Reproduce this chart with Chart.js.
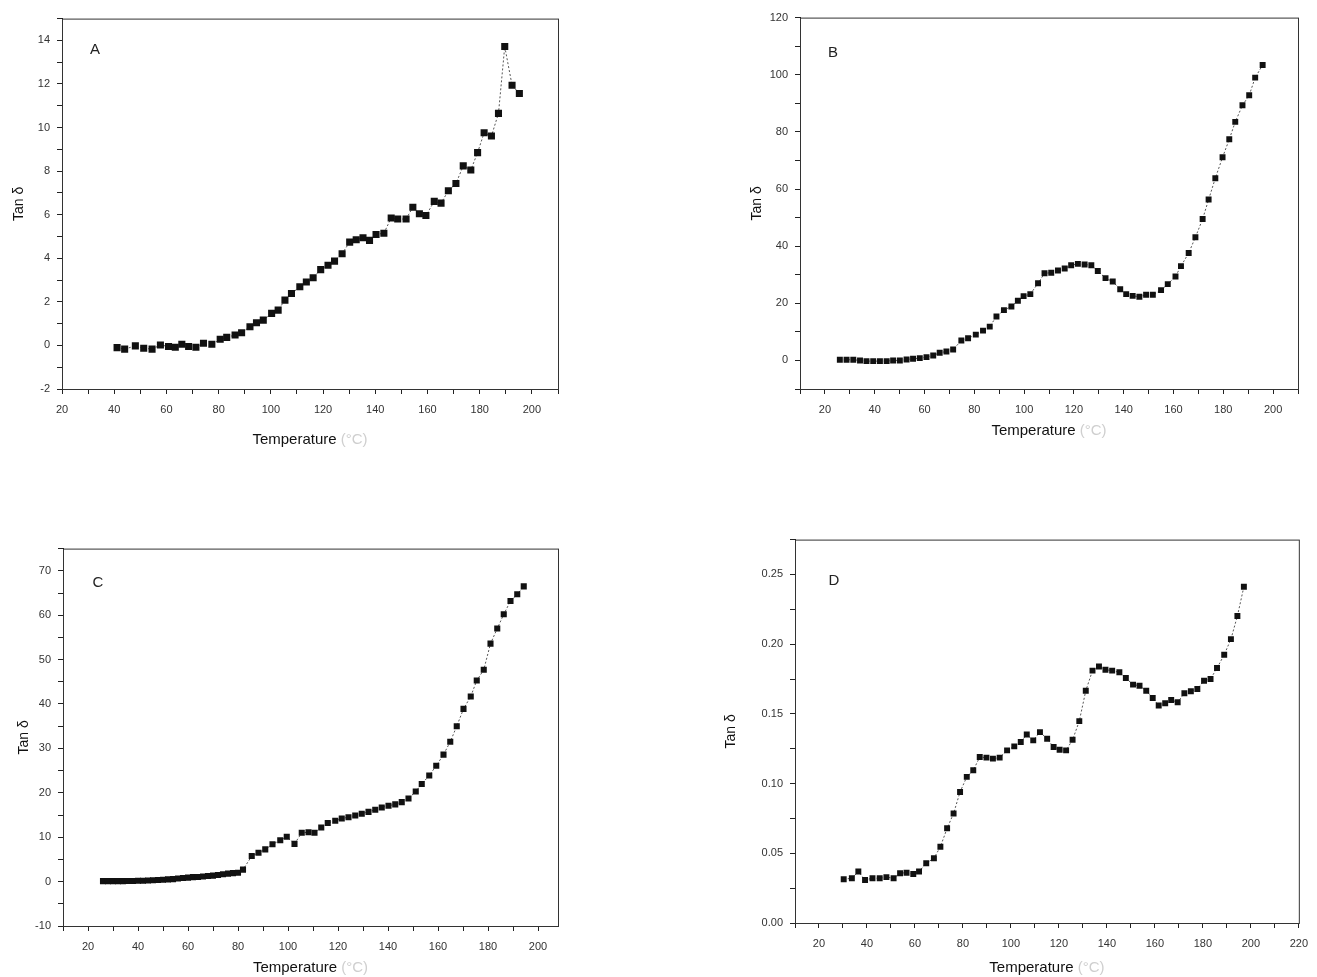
<!DOCTYPE html>
<html>
<head>
<meta charset="utf-8">
<script src="https://cdn.jsdelivr.net/npm/chart.js@4.4.1/dist/chart.umd.min.js"></script>
<style>
  html, body { margin: 0; padding: 0; background: #fff; overflow: hidden; }
  body { width: 1317px; height: 977px; position: relative; }
  canvas { position: absolute; }
</style>
</head>
<body>
<canvas id="chartA"></canvas>
<canvas id="chartB"></canvas>
<canvas id="chartC"></canvas>
<canvas id="chartD"></canvas>
<script>
// --- data (temperature in °C, tan δ) ---
const aTemp = [41.1, 44.0, 48.1, 51.3, 54.5, 57.7, 60.8, 63.4, 65.9, 68.5, 71.3, 74.2, 77.4, 80.6, 83.1, 86.3, 88.8, 92.0, 94.5, 97.1,
  100.3, 102.8, 105.4, 107.9, 111.1, 113.6, 116.2, 119.1, 121.9, 124.4, 127.3, 130.2, 132.7, 135.3, 137.8, 140.3, 143.3, 146.1, 148.6, 151.8,
  154.4, 156.9, 159.4, 162.6, 165.2, 168.0, 170.9, 173.7, 176.6, 179.2, 181.7, 184.5, 187.2, 189.6, 192.4, 195.2];
const aTan = [-0.10, -0.17, -0.02, -0.13, -0.17, 0.02, -0.05, -0.08, 0.05, -0.05, -0.08, 0.10, 0.05, 0.28, 0.37, 0.48, 0.58, 0.86, 1.04, 1.16,
  1.47, 1.62, 2.08, 2.38, 2.69, 2.91, 3.11, 3.48, 3.68, 3.87, 4.21, 4.74, 4.85, 4.94, 4.82, 5.09, 5.15, 5.85, 5.80, 5.80,
  6.34, 6.04, 5.96, 6.61, 6.53, 7.10, 7.43, 8.24, 8.05, 8.85, 9.76, 9.61, 10.65, 13.72, 11.94, 11.56];

const bTemp = [26.0, 28.7, 31.4, 34.1, 36.7, 39.4, 42.1, 44.8, 47.4, 50.1, 52.8, 55.4, 58.1, 60.8, 63.5, 66.1, 68.8, 71.5, 74.8, 77.5,
  80.6, 83.5, 86.2, 88.9, 91.9, 94.9, 97.5, 99.8, 102.5, 105.6, 108.2, 110.9, 113.6, 116.3, 118.9, 121.6, 124.3, 127.0, 129.6, 132.7,
  135.6, 138.6, 141.0, 143.6, 146.3, 149.0, 151.7, 155.0, 157.7, 160.8, 163.0, 166.1, 168.8, 171.7, 174.1, 176.8, 179.7, 182.4, 184.8, 187.7,
  190.4, 192.8, 195.8];
const bTan = [0.24, 0.24, 0.24, 0.0, -0.24, -0.24, -0.24, -0.24, 0.0, 0.0, 0.35, 0.58, 0.81, 1.16, 1.74, 2.67, 3.13, 3.83, 6.96, 7.77,
  9.04, 10.43, 11.83, 15.4, 17.6, 18.9, 20.9, 22.5, 23.2, 27.0, 30.5, 30.7, 31.5, 32.2, 33.3, 33.8, 33.6, 33.3, 31.3, 28.8,
  27.6, 24.9, 23.2, 22.6, 22.3, 23.0, 23.0, 24.6, 26.7, 29.4, 33.0, 37.6, 43.1, 49.5, 56.3, 63.8, 71.1, 77.4, 83.5, 89.3,
  92.8, 99.0, 103.4];

const cTemp = [26, 28, 30, 32, 34, 36, 38, 40, 42, 44, 46, 48, 50, 52, 54, 56, 58, 60, 62, 64, 66, 68, 70, 72, 74, 76, 78, 80, 82,
  85.5, 88.2, 90.9, 93.8, 96.9, 99.5, 102.6, 105.5, 108.2, 110.6, 113.3, 115.9, 118.9, 121.5, 124.2, 126.9, 129.5, 132.2, 134.9, 137.5,
  140.2, 142.9, 145.5, 148.2, 151.1, 153.5, 156.5, 159.3, 162.2, 164.9, 167.5, 170.2, 173.1, 175.5, 178.3, 181.0, 183.7, 186.3, 189.0,
  191.7, 194.3];
const cTan = [0.1, 0.1, 0.1, 0.1, 0.1, 0.15, 0.15, 0.2, 0.2, 0.25, 0.3, 0.35, 0.4, 0.5, 0.55, 0.7, 0.8, 0.9, 1.0, 1.05, 1.15, 1.25, 1.35, 1.5, 1.65, 1.8, 1.9, 2.0, 2.7,
  5.75, 6.5, 7.25, 8.4, 9.3, 10.1, 8.5, 11.0, 11.1, 11.0, 12.2, 13.2, 13.7, 14.2, 14.5, 14.9, 15.3, 15.7, 16.2, 16.7,
  17.1, 17.4, 17.9, 18.7, 20.3, 22.0, 23.9, 26.1, 28.6, 31.5, 35.0, 38.9, 41.7, 45.3, 47.7, 53.6, 57.0, 60.2, 63.2,
  64.7, 66.5];

const dTemp = [30.3, 33.7, 36.4, 39.2, 42.3, 45.3, 48.1, 51.1, 53.8, 56.5, 59.3, 61.7, 64.7, 67.9, 70.6, 73.4, 76.1, 78.8, 81.6, 84.3,
  87.0, 89.8, 92.5, 95.3, 98.4, 101.4, 104.1, 106.6, 109.3, 112.1, 115.1, 117.8, 120.3, 123.0, 125.7, 128.5, 131.2, 134.0, 136.7, 139.4,
  142.2, 145.2, 147.9, 150.9, 153.6, 156.4, 159.1, 161.6, 164.3, 166.8, 169.5, 172.3, 175.0, 177.7, 180.5, 183.2, 185.9, 188.9, 191.7, 194.4,
  197.1];
const dTan = [0.0314, 0.0321, 0.0369, 0.0309, 0.0321, 0.0321, 0.0329, 0.0321, 0.0357, 0.0361, 0.0352, 0.0369, 0.0429, 0.0464, 0.0547, 0.0679, 0.0786, 0.0940, 0.1048, 0.1095,
  0.1190, 0.1186, 0.1179, 0.1186, 0.1238, 0.1267, 0.1298, 0.1352, 0.1310, 0.1369, 0.1321, 0.1262, 0.1243, 0.1238, 0.1314, 0.1448, 0.1666, 0.1810, 0.1840, 0.1817,
  0.1810, 0.1798, 0.1757, 0.1710, 0.1702, 0.1666, 0.1614, 0.1560, 0.1576, 0.1600, 0.1583, 0.1648, 0.1662, 0.1679, 0.1738, 0.1750, 0.1829, 0.1924, 0.2036, 0.2202,
  0.2412];

const xTitle = 'Temperature';
const xUnit = '(°C)';
const yTitle = 'Tan δ';

const FONT = "'Liberation Sans', Arial, sans-serif";

// frame, panel letter and x-axis title
const panelDeco = {
  id: 'panelDeco',
  afterDraw(chart, args, opts) {
    const { ctx, chartArea: a } = chart;
    ctx.save();
    ctx.strokeStyle = '#333';
    ctx.lineWidth = 1;
    ctx.strokeRect(a.left + 0.5, a.top + 0.5, a.right - a.left, a.bottom - a.top);

    ctx.fillStyle = '#222';
    ctx.font = '300 15px ' + FONT;
    ctx.textAlign = 'center';
    ctx.textBaseline = 'middle';
    ctx.fillText(opts.tag, a.left + opts.tagDx, a.top + opts.tagDy);

    ctx.font = '15px ' + FONT;
    const w1 = ctx.measureText(xTitle + ' ').width;
    const w2 = ctx.measureText(xUnit).width;
    let x = (a.left + a.right) / 2 - (w1 + w2) / 2;
    const y = a.bottom + opts.titleDy;
    ctx.textAlign = 'left';
    ctx.fillStyle = '#111';
    ctx.fillText(xTitle, x, y);
    ctx.fillStyle = '#cfcfcf';
    ctx.fillText(xUnit, x + w1, y);
    ctx.restore();
  }
};

function makePanel(id, temps, vals, p) {
  const cv = document.getElementById(id);
  const padTop = 12, padRight = p.padRight || 16, xH = 70;
  const w = (p.R - p.L) + p.W + padRight;
  const h = (p.B - p.T) + padTop + xH;
  cv.width = w; cv.height = h;
  cv.style.left = (p.L - p.W) + 'px';
  cv.style.top = (p.T - padTop) + 'px';
  cv.style.width = w + 'px';
  cv.style.height = h + 'px';

  const points = temps.map((t, i) => ({ x: t, y: vals[i] }));

  return new Chart(cv, {
    type: 'scatter',
    data: {
      datasets: [{
        data: points,
        showLine: true,
        borderColor: '#555',
        borderWidth: 1,
        borderDash: [2, 2],
        pointStyle: 'rect',
        pointRadius: p.r,
        pointBackgroundColor: '#111',
        pointBorderColor: '#111',
        pointBorderWidth: 0
      }]
    },
    options: {
      responsive: false,
      animation: false,
      layout: { padding: { top: padTop, right: padRight, left: 0, bottom: 0 } },
      plugins: {
        legend: { display: false },
        tooltip: { enabled: false },
        panelDeco: { tag: p.tag, tagDx: p.tagDx, tagDy: p.tagDy, titleDy: p.titleDy }
      },
      scales: {
        x: {
          type: 'linear',
          min: p.xMin, max: p.xMax,
          afterFit: s => { s.height = xH; },
          // every 10 degrees, labelled every 20
          afterBuildTicks: s => {
            const t = [];
            for (let v = Math.ceil(p.xMin / 10) * 10; v <= p.xMax; v += 10) t.push({ value: v });
            s.ticks = t;
          },
          border: { color: '#111', width: 1 },
          grid: { drawOnChartArea: false, drawTicks: true, tickLength: 5, color: '#222' },
          ticks: {
            autoSkip: false,
            maxRotation: 0,
            padding: 9,
            color: '#333',
            font: { family: FONT, size: 11 },
            callback: v => (Math.round(v) % 20 === 0) ? String(Math.round(v)) : ''
          }
        },
        y: {
          type: 'linear',
          min: p.yMin, max: p.yMax,
          afterFit: s => { s.width = p.W; },
          border: { color: '#111', width: 1 },
          grid: { drawOnChartArea: false, drawTicks: true, tickLength: 5, color: '#222' },
          title: {
            display: true,
            text: yTitle,
            color: '#111',
            font: { family: FONT, size: 14 },
            padding: { top: p.yTitlePad, bottom: 0 }
          },
          ticks: {
            stepSize: p.yStep,
            autoSkip: false,
            padding: 7,
            color: '#333',
            font: { family: FONT, size: 11 },
            callback: p.yLabel
          }
        }
      }
    },
    plugins: [panelDeco]
  });
}

const intLabel = major => v => {
  const r = Math.round(v);
  if (Math.abs(v - r) > 1e-6 || r % major !== 0) return '';
  return String(r);
};

makePanel('chartA', aTemp, aTan, {
  L: 62, T: 17, R: 558, B: 389, W: 58, yTitlePad: 7, titleDy: 51,
  tag: 'A', tagDx: 33, tagDy: 31, r: 5,
  xMin: 20, xMax: 210, yMin: -2, yMax: 15, yStep: 1, yLabel: intLabel(2)
});

makePanel('chartB', bTemp, bTan, {
  L: 800, T: 16, R: 1298, B: 389, W: 58, yTitlePad: 6.6, titleDy: 42,
  tag: 'B', tagDx: 33, tagDy: 35, r: 4.2,
  xMin: 10, xMax: 210, yMin: -10, yMax: 120, yStep: 10, yLabel: intLabel(20)
});

makePanel('chartC', cTemp, cTan, {
  L: 63, T: 547, R: 558, B: 926, W: 58, yTitlePad: 11, titleDy: 42,
  tag: 'C', tagDx: 35, tagDy: 34, r: 4.3,
  xMin: 10, xMax: 208, yMin: -10, yMax: 75, yStep: 5, yLabel: intLabel(10)
});

makePanel('chartD', dTemp, dTan, {
  L: 795, T: 538, R: 1306, B: 923, W: 76, yTitlePad: 3.6, titleDy: 45, padRight: 11,
  tag: 'D', tagDx: 39, tagDy: 41, r: 4.2,
  xMin: 10, xMax: 220, yMin: 0, yMax: 0.275, yStep: 0.025,
  yLabel: v => {
    const r = Math.round(v * 1000);
    return r % 50 === 0 ? (r / 1000).toFixed(2) : '';
  }
});
</script>
</body>
</html>
